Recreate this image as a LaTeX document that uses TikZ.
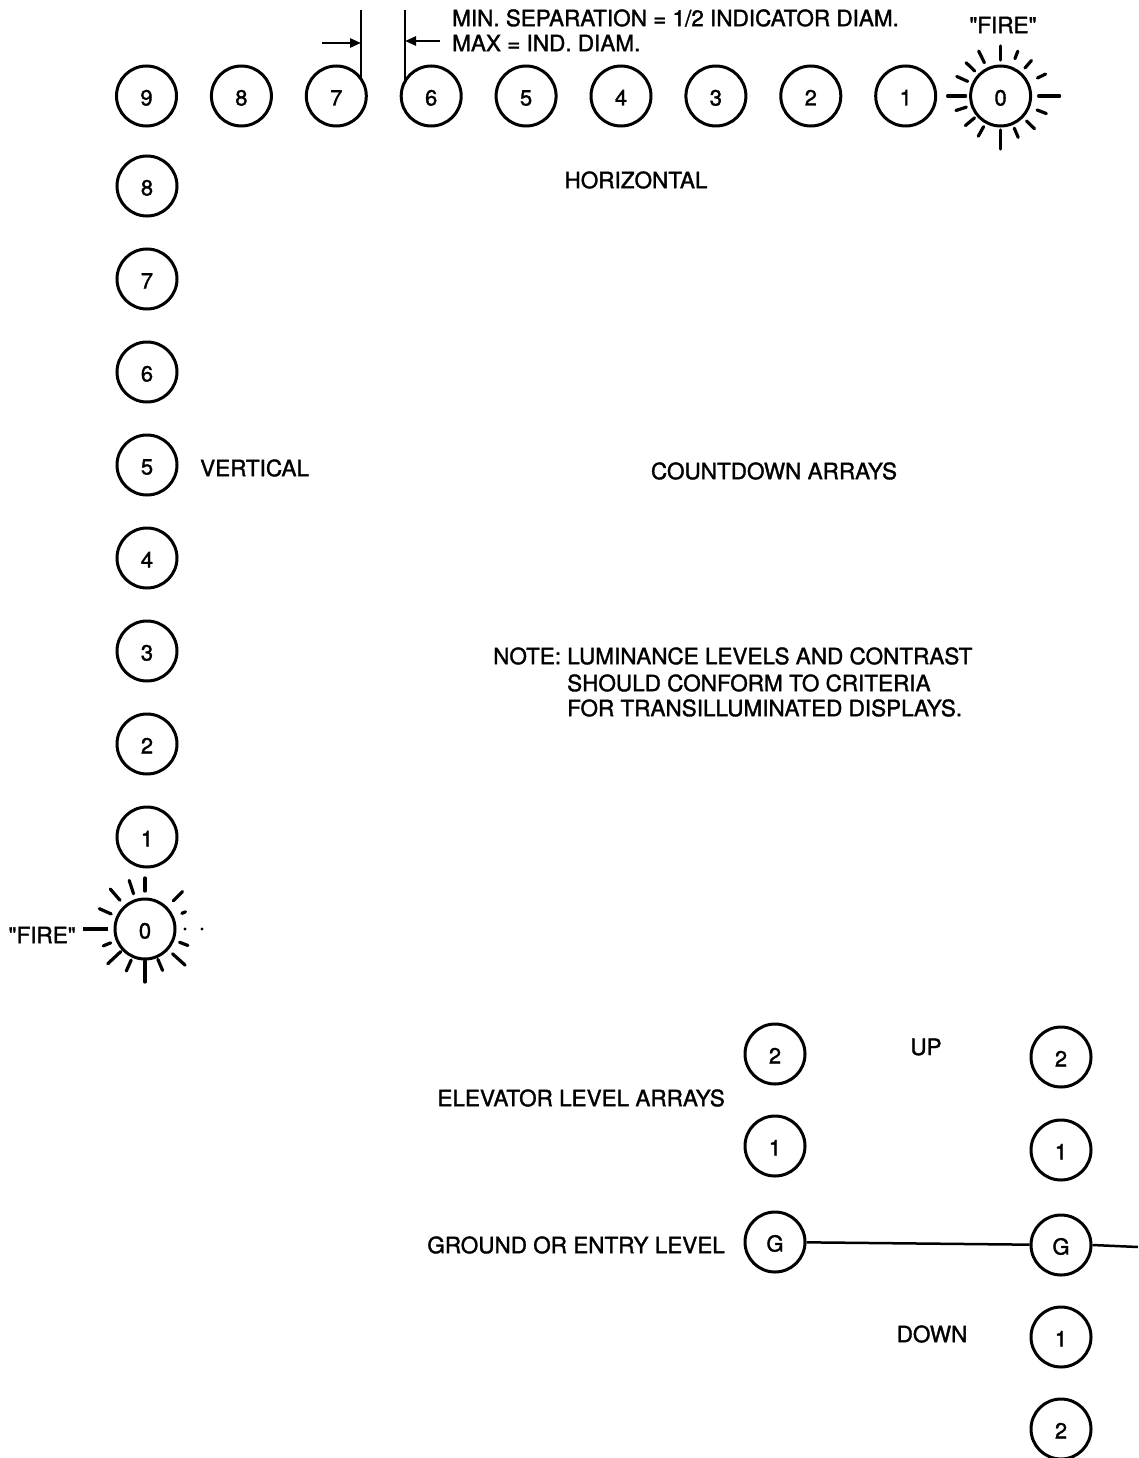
\documentclass[tikz,border=0pt]{standalone}
\usepackage{fontspec}
\setmainfont{TeX Gyre Heros}[FakeBold=1.5]
\usetikzlibrary{arrows.meta}
\begin{document}
\begin{tikzpicture}[x=1pt,y=-1pt,
  ind/.style={draw,circle,line width=3pt,minimum size=60pt,inner sep=0pt,
    text height=19pt,text depth=0pt,font=\fontsize{22}{26}\selectfont},
  lbl/.style={inner sep=0pt,font=\fontsize{22.5}{26}\selectfont},
  ray/.style={line width=3.2pt,line cap=round},
  conn/.style={line width=2.5pt},
  dim/.style={line width=2.5pt},
  arr/.style={line width=2.5pt,-{Triangle[length=11pt,width=9pt]}}]
\useasboundingbox (0,0) rectangle (1138,1458);
% horizontal countdown
\foreach \n [count=\k from 0] in {9,8,7,6,5,4,3,2,1,0}
  \node[ind] (h\n) at (146.5+94.9*\k,96) {\n};
% vertical countdown
\foreach \n [count=\k from 1] in {8,7,6,5,4,3,2,1}
  \node[ind] (v\n) at (147,93+93*\k) {\n};
\node[ind] (v0) at (145,929) {0};
% fire rays (top right)
\foreach \a/\r/\R in {90/36/50,116/37/50,69/40/48,136/36/48,49/37/47,156/36/48,26/41/50,
  180/35/53,0/38/59,198/36/47,-21/39/49,220/34/46,-44/36/47,241/35/46,-67/35/45,270/34/53}
  \draw[ray] ([shift={(\a:\r pt)}]h0.center) -- ([shift={(\a:\R pt)}]h0.center);
% fire rays (bottom left)
\foreach \a/\r/\R in {90/38/51,108/37/51,131/38/53,156/37/50,202/37/45,223/33/51,
  246/34/46,270/32/53,293/33/45,318/37/54,339/37/46,23/40/44,45/40/53}
  \draw[ray] ([shift={(\a:\r pt)}]v0.center) -- ([shift={(\a:\R pt)}]v0.center);
\fill ([shift={(0:40pt)}]v0.center) circle (1.6pt);
\fill ([shift={(0:57pt)}]v0.center) circle (1.6pt);
\node[lbl,anchor=east] (firel) at (76,935) {\textquotedbl FIRE\textquotedbl};
\draw[ray,line cap=butt] ([xshift=-37pt]v0.center) -- ([xshift=-62pt]v0.center);
\node[lbl] (firet) at (1003,25) {\textquotedbl FIRE\textquotedbl};
% separation dimension
\coordinate (d7t) at (361,10);
\coordinate (d6t) at (405,10);
\draw[dim] (d7t) -- (d7t |- h7.35);
\draw[dim] (d6t) -- (d6t |- h6.151);
\coordinate (a7s) at (322,43);
\coordinate (a6s) at (440,41);
\draw[arr] (a7s) -- (a7s -| d7t);
\draw[arr] (a6s) -- (a6s -| d6t);
\node[lbl,anchor=west] (min) at (452,18) {MIN. SEPARATION = 1/2 INDICATOR DIAM.};
\node[lbl,anchor=west] (max) at (452,43) {MAX = IND. DIAM.};
% labels
\node[lbl] (horiz) at (636,180) {HORIZONTAL};
\node[lbl,anchor=west] (vert) at (200,468) {VERTICAL};
\node[lbl] (count) at (774,471) {COUNTDOWN ARRAYS};
\node[lbl,anchor=west] (note1) at (493,656) {NOTE: LUMINANCE LEVELS AND CONTRAST};
\node[lbl,anchor=west] (note2) at (567,683) {SHOULD CONFORM TO CRITERIA};
\node[lbl,anchor=west] (note3) at (567,708) {FOR TRANSILLUMINATED DISPLAYS.};
% elevator arrays
\node[ind] (e2) at (775,1054) {2};
\node[ind] (e1) at (775,1146) {1};
\node[ind] (eG) at (775,1242) {G};
\node[ind] (r2) at (1061,1057) {2};
\node[ind] (r1) at (1061,1150) {1};
\node[ind] (rG) at (1061,1245) {G};
\node[ind] (d1) at (1061,1337) {1};
\node[ind] (d2) at (1061,1429) {2};
\coordinate (gend) at (1138,1247);
\draw[conn] (eG) -- (rG);
\draw[conn] (rG.east) -- (gend);
\node[lbl,anchor=east] (elev) at (725,1098) {ELEVATOR LEVEL ARRAYS};
\node[lbl] (up) at (926,1047) {UP};
\node[lbl,anchor=east] (ground) at (725,1245) {GROUND OR ENTRY LEVEL};
\node[lbl] (down) at (932,1334) {DOWN};
\end{tikzpicture}
\end{document}
